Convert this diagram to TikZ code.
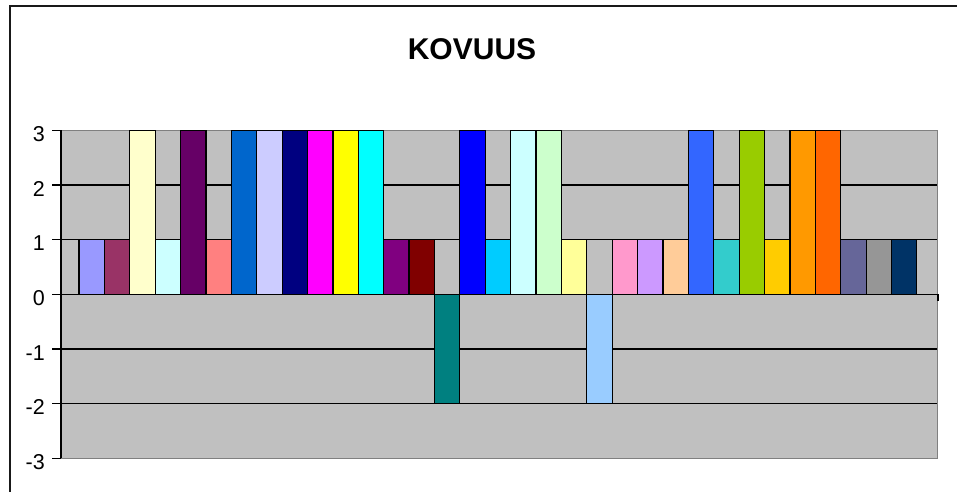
\documentclass[tikz,border=0pt]{standalone}
\usepackage{fontspec}
\setmainfont{Liberation Sans}
\definecolor{plotbg}{HTML}{C0C0C0}
\definecolor{plotedge}{HTML}{808080}
\tikzset{
  grid line/.style={black, line width=1.1pt},
  axis line/.style={black, line width=1.3pt},
  bar/.style={draw=black, line width=1.2pt},
  ylabel/.style={anchor=east, inner sep=0pt, font=\fontsize{21.5}{21.5}\selectfont},
  title/.style={inner sep=0pt, font=\fontsize{30}{30}\selectfont\bfseries}
}
\begin{document}
\begin{tikzpicture}[x=1pt,y=-1pt]
\useasboundingbox (0,0) rectangle (957,491);
\fill[white] (0,0) rectangle (957,491);
% chart frame (extends beyond the visible area)
\begin{scope}
\clip (0,0) rectangle (957,491);
\draw[black!90, line width=2pt] (9.5,5.5) rectangle (1000,540);
\end{scope}
% title
\node[title] (title) at (472,49) {KOVUUS};
% plot area
\fill[plotbg] (61,130.3) rectangle (937.5,458.3);
\foreach \v in {2,1,-1,-2}
  \draw[grid line] (61,{294.3-54.67*\v}) -- (937.5,{294.3-54.67*\v});
\draw[plotedge, line width=1.6pt] (61,130.3) -- (937.5,130.3) -- (937.5,458.3) -- (61,458.3);
% bars
\foreach \col/\v [count=\i from 0] in {
  9999FF/1, 993366/1, FFFFCC/3, CCFFFF/1, 660066/3, FF8080/1, 0066CC/3,
  CCCCFF/3, 000080/3, FF00FF/3, FFFF00/3, 00FFFF/3, 800080/1, 800000/1,
  008080/-2, 0000FF/3, 00CCFF/1, CCFFFF/3, CCFFCC/3, FFFF99/1, 99CCFF/-2,
  FF99CC/1, CC99FF/1, FFCC99/1, 3366FF/3, 33CCCC/1, 99CC00/3, FFCC00/1,
  FF9900/3, FF6600/3, 666699/1, 969696/1, 003366/1}
{
  \definecolor{barc}{HTML}{\col}
  \draw[bar, fill=barc] ({79+25.39*\i},294.3) rectangle ({79+25.39*(\i+1)},{294.3-54.67*\v});
}
% axes
\draw[axis line] (61,294.3) -- (938.5,294.3);
\draw[axis line] (938,294.3) -- (938,301);
\draw[axis line] (61,130.3) -- (61,458.3);
\foreach \v/\n in {3/a,2/b,1/c,0/d,-1/e,-2/f,-3/g}{
  \draw[axis line] (52,{294.3-54.67*\v}) -- (61,{294.3-54.67*\v});
  \node[ylabel] (lab\n) at (45,{298-54.67*\v}) {\v};
}
\end{tikzpicture}
\end{document}
